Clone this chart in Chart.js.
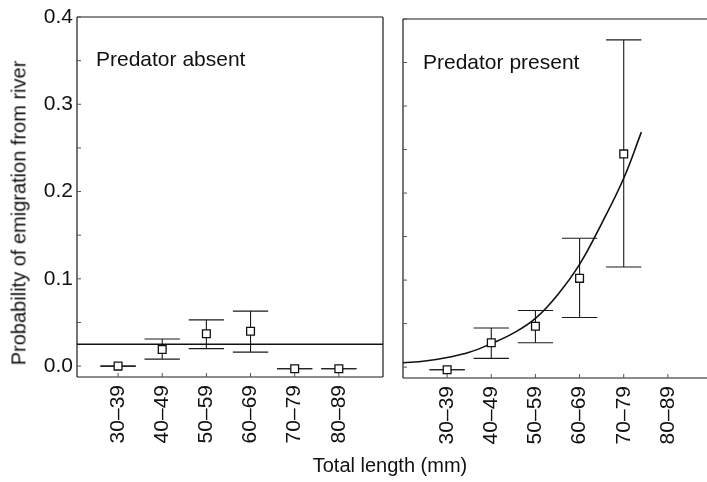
<!DOCTYPE html>
<html>
<head>
<meta charset="utf-8">
<script src="https://cdn.jsdelivr.net/npm/chart.js@4.4.0/dist/chart.umd.min.js"></script>
<style>
  body { margin: 0; width: 707px; height: 482px; overflow: hidden; position: relative; background: #fff; }
  canvas { position: absolute; top: 0; }
  .title { position: absolute; font: 20px "Liberation Sans", Arial, sans-serif; color: #111; white-space: nowrap; }
</style>
</head>
<body>
<canvas id="absentChart" width="392" height="482" style="left:0"></canvas>
<canvas id="presentChart" width="340" height="482" style="left:392px"></canvas>
<div class="title" style="left:19px;top:213px;transform:translate(-50%,-50%) rotate(-90deg)">Probability of emigration from river</div>
<div class="title" style="left:390px;top:465px;transform:translate(-50%,-50%)">Total length (mm)</div>
<script>
// categories (total length classes)
const categories = ["30–39", "40–49", "50–59", "60–69", "70–79", "80–89"];
const yTicks = [0.0, 0.1, 0.2, 0.3, 0.4];
const yMinor = [0.0, 0.05, 0.1, 0.15, 0.2, 0.25, 0.3, 0.35, 0.4];

// Predator absent
const absentMean = [0.000, 0.019, 0.037, 0.040, -0.003, -0.003];
const absentLow = [0.000, 0.008, 0.020, 0.016, -0.003, -0.003];
const absentHigh = [0.000, 0.031, 0.053, 0.063, -0.003, -0.003];
const absentFit = 0.025;

// Predator present
const presentMean = [-0.003, 0.028, 0.047, 0.102, 0.245, null];
const presentLow = [-0.003, 0.010, 0.028, 0.057, 0.115, null];
const presentHigh = [-0.003, 0.045, 0.065, 0.148, 0.376, null];
const presentFitX = [-1, -0.5, 0, 0.5, 1, 1.5, 2, 2.5, 3, 3.5, 4, 4.4];
const presentFitY = [0.005, 0.007, 0.011, 0.017, 0.027, 0.039, 0.056, 0.083, 0.118, 0.165, 0.217, 0.270];

const FONT = '"Liberation Sans", Arial, sans-serif';
const INK = "#111";
const capHalf = 0.4;

Chart.defaults.font.family = FONT;
Chart.defaults.color = INK;

function line(ctx, x1, y1, x2, y2) {
  ctx.beginPath();
  ctx.moveTo(x1, y1);
  ctx.lineTo(x2, y2);
  ctx.stroke();
}

// frame, inner ticks, error bars and panel label
const decor = {
  id: "decor",
  beforeDatasetsDraw(chart, args, opts) {
    const { ctx, chartArea: a, scales: { x, y } } = chart;
    ctx.save();
    ctx.strokeStyle = "#1a1a1a";
    ctx.lineWidth = 1.2;
    line(ctx, a.left, a.top, a.right, a.top);
    line(ctx, a.left, a.bottom, a.right, a.bottom);
    line(ctx, a.left, a.top, a.left, a.bottom);
    if (opts.rightEdge) line(ctx, a.right, a.top, a.right, a.bottom);

    ctx.lineWidth = 1;
    ctx.strokeStyle = "#555";
    yMinor.forEach((v) => {
      const py = y.getPixelForValue(v);
      line(ctx, a.left, py, a.left + 4, py);
    });
    categories.forEach((c, i) => {
      const px = x.getPixelForValue(i);
      line(ctx, px, a.bottom, px, a.bottom - 4);
    });

    ctx.strokeStyle = "#1a1a1a";
    ctx.lineWidth = 1.1;
    opts.low.forEach((lo, i) => {
      if (lo == null) return;
      const px = x.getPixelForValue(i);
      const h = x.getPixelForValue(i + capHalf) - px;
      const pl = y.getPixelForValue(lo);
      const ph = y.getPixelForValue(opts.high[i]);
      line(ctx, px, pl, px, ph);
      line(ctx, px - h, pl, px + h, pl);
      line(ctx, px - h, ph, px + h, ph);
    });

    ctx.fillStyle = INK;
    ctx.font = "21px " + FONT;
    ctx.textBaseline = "alphabetic";
    ctx.fillText(opts.label, opts.lx, opts.ly);
    ctx.restore();
  },
};

function points(values) {
  return values
    .map((v, i) => (v == null ? null : { x: i, y: v }))
    .filter((p) => p);
}

function makeOptions(cfg) {
  return {
    responsive: false,
    animation: false,
    layout: { padding: cfg.padding },
    plugins: {
      legend: { display: false },
      tooltip: { enabled: false },
      decor: cfg.decor,
    },
    scales: {
      x: {
        type: "linear",
        min: cfg.xMin,
        max: cfg.xMax,
        afterBuildTicks: (s) => {
          s.ticks = categories.map((c, i) => ({ value: i }));
        },
        afterFit: (s) => {
          s.height = cfg.xHeight;
        },
        ticks: {
          callback: (v) => categories[v],
          minRotation: 90,
          maxRotation: 90,
          autoSkip: false,
          padding: 8,
          font: { size: 21 },
          color: INK,
        },
        grid: { display: false, drawTicks: false },
        border: { display: false },
      },
      y: {
        type: "linear",
        min: -0.0125,
        max: 0.4,
        afterBuildTicks: (s) => {
          s.ticks = yTicks.map((v) => ({ value: v }));
        },
        afterFit: (s) => {
          s.width = cfg.yWidth;
        },
        ticks: {
          display: cfg.yLabels,
          callback: (v) => v.toFixed(1),
          padding: 4,
          font: { size: 21 },
          color: INK,
        },
        grid: { display: false, drawTicks: false },
        border: { display: false },
      },
    },
  };
}

const markerStyle = {
  type: "scatter",
  pointStyle: "rect",
  pointRadius: 5.5,
  pointBackgroundColor: "#fff",
  pointBorderColor: INK,
  pointBorderWidth: 1.3,
  showLine: false,
};

new Chart(document.getElementById("absentChart"), {
  type: "scatter",
  data: {
    datasets: [
      Object.assign({ data: points(absentMean) }, markerStyle),
      {
        type: "line",
        data: [
          { x: -0.93, y: absentFit },
          { x: 6, y: absentFit },
        ],
        borderColor: INK,
        borderWidth: 1.6,
        pointRadius: 0,
      },
    ],
  },
  options: makeOptions({
    padding: { top: 17, right: 9, bottom: 0, left: 0 },
    xMin: -0.93,
    xMax: 6,
    xHeight: 105,
    yWidth: 77,
    yLabels: true,
    decor: { low: absentLow, high: absentHigh, label: "Predator absent", lx: 96, ly: 66, rightEdge: true },
  }),
  plugins: [decor],
});

new Chart(document.getElementById("presentChart"), {
  type: "scatter",
  data: {
    datasets: [
      Object.assign({ data: points(presentMean) }, markerStyle),
      {
        type: "line",
        data: presentFitX.map((x, i) => ({ x: x, y: presentFitY[i] })),
        borderColor: INK,
        borderWidth: 1.6,
        pointRadius: 0,
        tension: 0.4,
      },
    ],
  },
  options: makeOptions({
    padding: { top: 19, right: 20, bottom: 0, left: 0 },
    xMin: -1,
    xMax: 6,
    xHeight: 104,
    yWidth: 11,
    yLabels: false,
    decor: { low: presentLow, high: presentHigh, label: "Predator present", lx: 31, ly: 69, rightEdge: false },
  }),
  plugins: [decor],
});
</script>
</body>
</html>
